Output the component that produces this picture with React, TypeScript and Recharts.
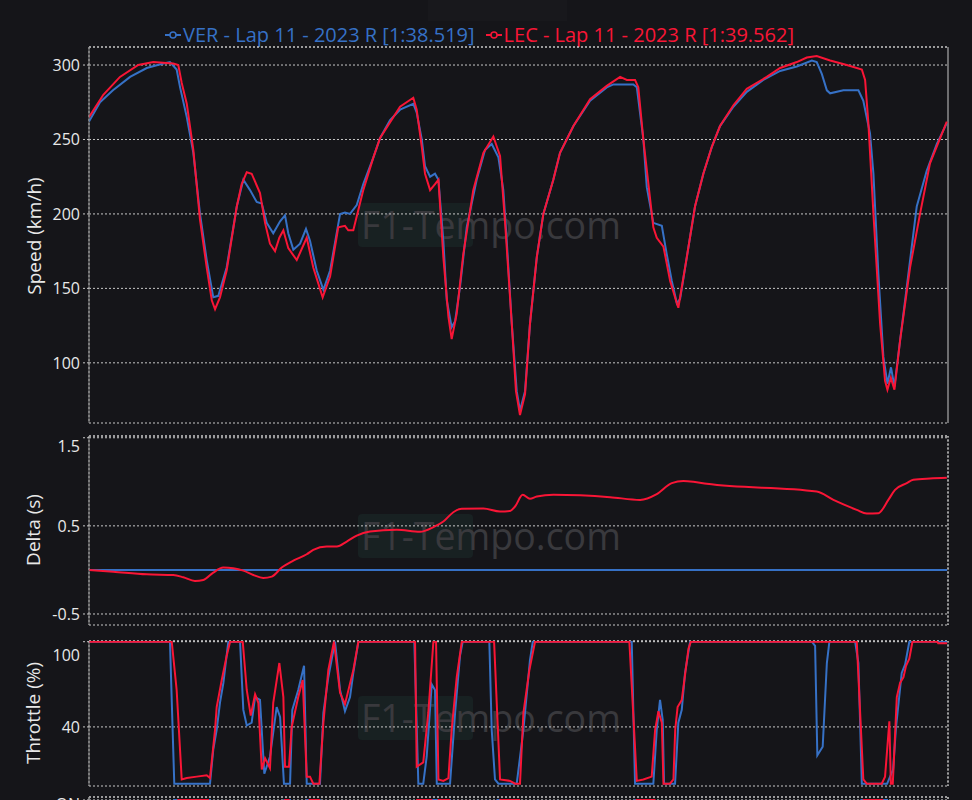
import React from 'react';
import { LineChart, Line, XAxis, YAxis, CartesianGrid, ReferenceLine } from 'recharts';

// ---------- data (distance m, value) ----------
const X_MAX = 5772;
const X_TICKS = [0, 500, 1000, 1500, 2000, 2500, 3000, 3500, 4000, 4500, 5000, 5500];

const SPEED_TICKS = [100, 150, 200, 250, 300];
const DELTA_TICKS = [-0.5, 0.5, 1.5];
const THROTTLE_TICKS = [40, 100];
const BRAKE_TICKS = [0, 1];

const VER_SPEED: [number, number][] = [
  [0, 262], [74, 275], [161, 283], [276, 292], [388, 298], [499, 301], [544, 302], [589, 297], [612, 285], [657, 265],
  [701, 241], [746, 200], [791, 169], [835, 144], [869, 145], [925, 164], [993, 205], [1037, 223], [1082, 216], [1127, 208],
  [1161, 207], [1194, 194], [1238, 187], [1284, 195], [1317, 199], [1339, 187], [1373, 176], [1418, 180], [1458, 190], [1485, 182],
  [1530, 162], [1575, 149], [1620, 162], [1687, 200], [1720, 201], [1754, 200], [1799, 206], [1843, 220], [1911, 238], [1956, 251],
  [2023, 263], [2090, 270], [2179, 274], [2202, 268], [2236, 250], [2258, 232], [2292, 225], [2325, 227], [2348, 223], [2381, 182],
  [2404, 142], [2437, 124], [2460, 128], [2493, 151], [2538, 191], [2605, 223], [2661, 243], [2706, 247], [2751, 238], [2784, 216],
  [2807, 182], [2841, 126], [2874, 81], [2896, 68], [2930, 81], [2963, 126], [3009, 171], [3053, 200], [3120, 223], [3165, 241],
  [3255, 259], [3367, 276], [3479, 285], [3524, 287], [3636, 287], [3658, 287], [3681, 285], [3725, 250], [3748, 218], [3792, 194],
  [3849, 192], [3882, 173], [3916, 155], [3950, 140], [3972, 143], [4017, 171], [4072, 205], [4128, 227], [4185, 245], [4240, 259],
  [4330, 272], [4420, 282], [4531, 290], [4644, 296], [4756, 299], [4857, 303], [4890, 302], [4924, 294], [4958, 283], [4980, 281],
  [5069, 283], [5170, 283], [5203, 276], [5248, 254], [5271, 227], [5304, 160], [5338, 104], [5365, 86], [5389, 97], [5412, 84],
  [5450, 115], [5495, 151], [5562, 205], [5629, 229], [5697, 247], [5764, 261],
];

const LEC_SPEED: [number, number][] = [
  [0, 265], [96, 280], [208, 292], [331, 300], [432, 302], [566, 301], [600, 300], [623, 288], [657, 274], [701, 243],
  [746, 196], [791, 164], [825, 142], [847, 136], [880, 144], [925, 162], [993, 205], [1026, 220], [1060, 228], [1093, 227],
  [1149, 214], [1183, 194], [1216, 180], [1250, 175], [1279, 184], [1306, 189], [1339, 177], [1396, 169], [1463, 184], [1507, 164],
  [1570, 144], [1620, 158], [1675, 191], [1720, 192], [1742, 189], [1776, 189], [1843, 216], [1911, 238], [1956, 251], [2090, 272],
  [2179, 278], [2202, 270], [2236, 245], [2258, 227], [2292, 216], [2325, 220], [2348, 223], [2381, 171], [2415, 131], [2437, 116],
  [2471, 133], [2515, 173], [2582, 216], [2650, 241], [2717, 252], [2762, 239], [2796, 194], [2841, 126], [2869, 81], [2896, 65],
  [2930, 79], [2963, 126], [3009, 171], [3053, 200], [3120, 223], [3165, 241], [3255, 259], [3367, 277], [3479, 286], [3524, 289],
  [3569, 292], [3614, 290], [3669, 290], [3691, 285], [3725, 250], [3792, 191], [3815, 184], [3860, 178], [3905, 155], [3950, 140],
  [3960, 137], [4017, 171], [4072, 205], [4128, 227], [4185, 245], [4240, 259], [4330, 273], [4420, 284], [4554, 292], [4644, 298],
  [4756, 302], [4823, 305], [4890, 306], [4980, 303], [5092, 300], [5193, 297], [5215, 290], [5237, 261], [5271, 200], [5316, 126],
  [5349, 88], [5365, 82], [5388, 90], [5412, 82], [5450, 115], [5517, 164], [5584, 200], [5651, 234], [5764, 262],
];

const VER_DELTA: [number, number][] = [[0, 0], [5766, 0]];

const LEC_DELTA: [number, number][] = [
  [0, 0], [163, -0.02], [388, -0.05], [566, -0.057], [634, -0.083], [712, -0.125], [768, -0.114], [835, -0.03], [902, 0.027],
  [970, 0.019], [1037, -0.008], [1104, -0.057], [1171, -0.091], [1228, -0.076], [1295, 0.027], [1373, 0.106], [1463, 0.178],
  [1507, 0.227], [1597, 0.265], [1665, 0.265], [1732, 0.322], [1799, 0.39], [1888, 0.435], [2068, 0.455], [2224, 0.432],
  [2314, 0.485], [2381, 0.549], [2448, 0.655], [2505, 0.693], [2650, 0.697], [2762, 0.663], [2829, 0.67], [2863, 0.72],
  [2914, 0.852], [2963, 0.807], [3009, 0.833], [3120, 0.852], [3501, 0.826], [3703, 0.795], [3815, 0.86], [3916, 0.985],
  [3994, 1.008], [4061, 1.0], [4151, 0.977], [4890, 0.89], [5002, 0.795], [5159, 0.682], [5226, 0.64], [5304, 0.644],
  [5371, 0.795], [5416, 0.909], [5495, 0.985], [5539, 1.023], [5651, 1.038], [5764, 1.045],
];

const VER_THROTTLE: [number, number][] = [
  [0, 100], [544, 100], [573, 0], [813, 0], [835, 24], [858, 38], [880, 57], [903, 71], [936, 100], [1015, 100],
  [1037, 52], [1060, 41], [1093, 43], [1116, 61], [1149, 59], [1178, 7], [1216, 19], [1261, 54], [1284, 47], [1310, 0],
  [1351, 0], [1366, 52], [1406, 66], [1445, 83], [1463, 0], [1552, 0], [1575, 50], [1608, 75], [1653, 100], [1687, 66],
  [1720, 51], [1754, 61], [1776, 78], [1810, 100], [2186, 100], [2213, 0], [2246, 0], [2269, 19], [2303, 70], [2325, 66],
  [2337, 0], [2426, 0], [2460, 50], [2493, 90], [2511, 100], [2690, 100], [2706, 38], [2728, 3], [2751, 0], [2874, 0],
  [2919, 38], [2963, 87], [2982, 100], [3647, 100], [3669, 0], [3792, 0], [3815, 38], [3837, 59], [3855, 45], [3864, 0],
  [3938, 0], [3960, 43], [3983, 52], [4005, 78], [4039, 100], [4857, 100], [4879, 97], [4894, 20], [4930, 26], [4958, 85],
  [4975, 100], [5148, 100], [5170, 85], [5193, 0], [5363, 0], [5403, 10], [5423, 40], [5461, 78], [5484, 84], [5512, 100],
  [5766, 100],
];

const LEC_THROTTLE: [number, number][] = [
  [0, 100], [556, 100], [589, 66], [623, 3], [657, 4], [724, 5], [791, 6], [813, 4], [847, 38], [858, 54],
  [892, 73], [925, 90], [948, 100], [1033, 100], [1060, 66], [1087, 48], [1116, 63], [1138, 57], [1161, 10], [1183, 18],
  [1216, 11], [1238, 57], [1279, 85], [1306, 61], [1317, 12], [1344, 12], [1362, 40], [1406, 61], [1436, 73], [1463, 5],
  [1485, 5], [1507, 0], [1548, 0], [1575, 43], [1608, 80], [1646, 100], [1687, 64], [1720, 56], [1776, 80], [1810, 100],
  [2191, 100], [2202, 12], [2246, 15], [2280, 50], [2314, 100], [2332, 100], [2348, 3], [2381, 2], [2415, 4], [2437, 38],
  [2471, 75], [2505, 100], [2722, 100], [2762, 3], [2829, 2], [2863, 0], [2896, 0], [2919, 50], [2959, 80], [2997, 100],
  [3631, 100], [3681, 2], [3725, 3], [3781, 5], [3804, 38], [3826, 51], [3849, 43], [3860, 0], [3904, 0], [3927, 3],
  [3939, 38], [3955, 54], [3983, 59], [3998, 71], [4028, 95], [4044, 100], [5159, 100], [5203, 3], [5226, 0], [5327, 0],
  [5349, 5], [5378, 44], [5388, 0], [5401, 0], [5428, 61], [5450, 71], [5473, 75], [5490, 83], [5512, 88], [5533, 100],
  [5699, 100], [5706, 99], [5766, 99],
];

const VER_BRAKE_ZONES: [number, number][] = [
  [575, 810], [1312, 1350], [1465, 1550], [2215, 2330], [2340, 2425], [2745, 2875], [3670, 3790], [5190, 5362],
];
const LEC_BRAKE_ZONES: [number, number][] = [
  [600, 800], [1318, 1342], [1482, 1545], [2205, 2300], [2350, 2420], [2765, 2890], [3680, 3800], [5205, 5330],
];

// ---------- style ----------
const BG = '#151519';
const VER_COLOR = '#3671C6';
const LEC_COLOR = '#F91536';
const GRID = '#c8c8c8';
const AXIS = '#8a8a8a';
const TEXT = '#e8e8e8';
const FONT = '"Open Sans", "Noto Sans", sans-serif';

const toPts = (arr: [number, number][]) => arr.map(([d, v]) => ({ d, v }));
const zonesToSteps = (zones: [number, number][]) => {
  const pts: { d: number; v: number }[] = [{ d: 0, v: 0 }];
  zones.forEach(([a, b]) => {
    pts.push({ d: a, v: 0 }, { d: a, v: 1 }, { d: b, v: 1 }, { d: b, v: 0 });
  });
  pts.push({ d: X_MAX, v: 0 });
  return pts;
};

const makeTick = (fmt: (v: number) => string, shiftValue?: number, shift = 0) => (props: any) => {
  const { x, y, payload } = props;
  const yy = payload.value === shiftValue ? y + shift : y;
  return (
    <text x={x} y={yy} dy="0.36em" textAnchor="end" fill={TEXT} fontSize={16} fontFamily={FONT}>
      {fmt(payload.value)}
    </text>
  );
};

type SeriesDef = { data: { d: number; v: number }[]; color: string; type?: any };

function Panel(props: {
  top: number;
  height: number;
  mTop: number;
  mBottom: number;
  domain: [number, number];
  ticks: number[];
  tick: any;
  series: SeriesDef[];
}) {
  const { top, height, mTop, mBottom, domain, ticks, tick, series } = props;
  return (
    <div style={{ position: 'absolute', left: 0, top, width: 972, height }}>
      <LineChart width={972} height={height} margin={{ top: mTop, right: 24, bottom: mBottom, left: 0 }}>
        <CartesianGrid stroke={GRID} strokeDasharray="2 2" />
        <XAxis
          dataKey="d"
          type="number"
          domain={[0, X_MAX]}
          ticks={X_TICKS}
          allowDataOverflow
          tick={false}
          tickSize={5}
          height={0}
          axisLine={{ stroke: AXIS }}
          tickLine={{ stroke: AXIS }}
        />
        <YAxis
          type="number"
          domain={domain}
          ticks={ticks}
          allowDataOverflow
          width={89}
          tickSize={6}
          tickMargin={3}
          tick={tick}
          axisLine={{ stroke: AXIS }}
          tickLine={{ stroke: GRID, strokeDasharray: '2 2' }}
        />
        <ReferenceLine y={domain[1]} stroke={GRID} strokeDasharray="2 2" />
        <ReferenceLine x={X_MAX} stroke={GRID} strokeDasharray="2 2" />
        {series.map((s, i) => (
          <Line
            key={i}
            data={s.data}
            dataKey="v"
            type={s.type || 'linear'}
            stroke={s.color}
            strokeWidth={2}
            dot={false}
            activeDot={false}
            isAnimationActive={false}
          />
        ))}
      </LineChart>
    </div>
  );
}

const LegendMarker = ({ color }: { color: string }) => (
  <svg width={16} height={10} style={{ marginRight: 2, verticalAlign: 'middle' }}>
    <line x1={0} y1={5} x2={16} y2={5} stroke={color} strokeWidth={2} />
    <circle cx={8} cy={5} r={3} fill={BG} stroke={color} strokeWidth={1.5} />
  </svg>
);

const Watermark = ({ cy }: { cy: number }) => (
  <>
    <div style={{ position: 'absolute', left: 358, top: cy - 22, width: 115, height: 44, background: '#182122', borderRadius: 4 }} />
    <div
      style={{
        position: 'absolute',
        left: 361,
        top: cy,
        transform: 'translateY(-50%)',
        fontSize: 37.5,
        lineHeight: '46px',
        color: '#39393d',
        fontFamily: FONT,
        whiteSpace: 'nowrap',
      }}
    >
      F1-Tempo.com
    </div>
  </>
);

const AxisTitle = ({ text, cx, cy }: { text: string; cx: number; cy: number }) => (
  <div
    style={{
      position: 'absolute',
      left: cx,
      top: cy,
      transform: 'translate(-50%, -50%) rotate(-90deg)',
      color: TEXT,
      fontSize: 19,
      fontFamily: FONT,
      whiteSpace: 'nowrap',
      lineHeight: '24px',
    }}
  >
    {text}
  </div>
);

export default function App() {
  return (
    <div style={{ position: 'absolute', left: 0, top: 0, width: 972, height: 800, background: BG, overflow: 'hidden', fontFamily: FONT }}>
      <div style={{ position: 'absolute', left: 428, top: 0, width: 139, height: 21, background: '#18181c' }} />
      <Watermark cy={225} />
      <Watermark cy={536} />
      <Watermark cy={718} />

      <div style={{ position: 'absolute', left: 165, top: 21, fontSize: 20, lineHeight: '28px', whiteSpace: 'nowrap', display: 'flex', alignItems: 'center' }}>
        <span style={{ color: VER_COLOR, display: 'flex', alignItems: 'center' }}>
          <LegendMarker color={VER_COLOR} />VER - Lap 11 - 2023 R [1:38.519]
        </span>
        <span style={{ color: LEC_COLOR, display: 'flex', alignItems: 'center', marginLeft: 11 }}>
          <LegendMarker color={LEC_COLOR} />LEC - Lap 11 - 2023 R [1:39.562]
        </span>
      </div>

      <Panel
        top={0}
        height={430}
        mTop={47}
        mBottom={7}
        domain={[59.6, 312.1]}
        ticks={SPEED_TICKS}
        tick={makeTick((v) => String(v))}
        series={[
          { data: toPts(VER_SPEED), color: VER_COLOR },
          { data: toPts(LEC_SPEED), color: LEC_COLOR },
        ]}
      />
      <Panel
        top={430}
        height={200}
        mTop={6}
        mBottom={5}
        domain={[-0.625, 1.52]}
        ticks={DELTA_TICKS}
        tick={makeTick((v) => String(v), 1.5, 7)}
        series={[
          { data: toPts(VER_DELTA), color: VER_COLOR },
          { data: toPts(LEC_DELTA), color: LEC_COLOR, type: 'monotone' },
        ]}
      />
      <Panel
        top={636}
        height={160}
        mTop={5}
        mBottom={10}
        domain={[-1.6, 100.5]}
        ticks={THROTTLE_TICKS}
        tick={makeTick((v) => String(v), 100, 10)}
        series={[
          { data: toPts(VER_THROTTLE), color: VER_COLOR },
          { data: toPts(LEC_THROTTLE), color: LEC_COLOR },
        ]}
      />
      <Panel
        top={790}
        height={160}
        mTop={7}
        mBottom={3}
        domain={[0, 1.02]}
        ticks={BRAKE_TICKS}
        tick={makeTick((v) => (v === 1 ? 'ON' : 'OFF'), 1, 4)}
        series={[
          { data: zonesToSteps(VER_BRAKE_ZONES), color: VER_COLOR },
          { data: zonesToSteps(LEC_BRAKE_ZONES), color: LEC_COLOR },
        ]}
      />

      <AxisTitle text="Speed (km/h)" cx={34} cy={236} />
      <AxisTitle text="Delta (s)" cx={33} cy={530} />
      <AxisTitle text="Throttle (%)" cx={33} cy={713} />
    </div>
  );
}
